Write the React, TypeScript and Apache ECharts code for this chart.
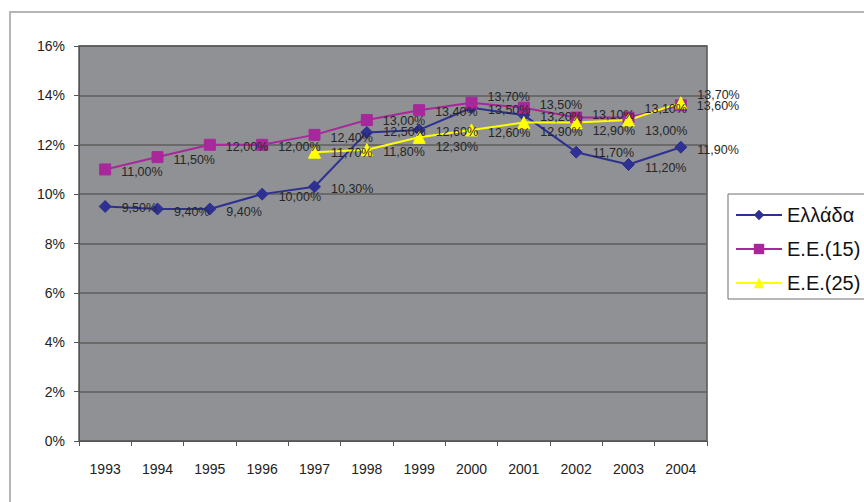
import React, { useEffect, useRef } from "react";
import * as echarts from "echarts";

const years = ["1993", "1994", "1995", "1996", "1997", "1998", "1999", "2000", "2001", "2002", "2003", "2004"];
const greece = [9.5, 9.4, 9.4, 10.0, 10.3, 12.5, 12.6, 13.5, 13.2, 11.7, 11.2, 11.9];
const eu15 = [11.0, 11.5, 12.0, 12.0, 12.4, 13.0, 13.4, 13.7, 13.5, 13.1, 13.1, 13.6];
const eu25 = [null, null, null, null, 11.7, 11.8, 12.3, 12.6, 12.9, 12.9, 13.0, 13.7];

const seriesNames = ["Ελλάδα", "Ε.Ε.(15)", "Ε.Ε.(25)"];
const yTicks = [0, 2, 4, 6, 8, 10, 12, 14, 16];

// Vertical nudges (px) for the value labels, so crowded labels stay readable
const greeceLabelDy = [2, 3.5, 3.5, 3, 2, 0, 2, 2.5, 2, 1, 3, 3];
const eu15LabelDy = [3, 3, 2, 2, 3, 1, 2, -5.5, -2.5, -2.5, -8.5, 1];
const eu25LabelDy = [0, 0, 0, 0, 1, 2.5, 10, 3, 9.5, 8.5, 11, -8];

const fmtPct = (v: number) => v.toFixed(2).replace(".", ",") + "%";

export default function App() {
  const ref = useRef<HTMLDivElement>(null);

  useEffect(() => {
    if (!ref.current) return;
    const chart = echarts.init(ref.current, undefined, { renderer: "svg" });

    const labelStyle = {
      show: true,
      position: "right" as const,
      distance: 10,
      fontSize: 12.5,
      color: "#262626",
      textBorderWidth: 0,
      textBorderColor: "transparent",
      fontFamily: "Liberation Sans, Arial, sans-serif",
      formatter: (p: any) => fmtPct(p.value),
    };

    const withNudges = (vals: (number | null)[], dy: number[]) =>
      vals.map((v, i) => (v == null ? null : { value: v, label: { offset: [0, dy[i]] } }));

    const mk = (
      name: string,
      data: (number | null)[],
      dy: number[],
      color: string,
      symbol: string,
      size: number
    ) => ({
      name,
      type: "line",
      data: withNudges(data, dy),
      symbol,
      symbolSize: size,
      showAllSymbol: true,
      lineStyle: { color, width: 2 },
      itemStyle: { color, borderColor: color },
      label: labelStyle,
      emphasis: { disabled: true },
    });

    chart.setOption({
      animation: false,
      backgroundColor: "#ffffff",
      textStyle: { fontFamily: "Liberation Sans, Arial, sans-serif" },
      graphic: [
        {
          type: "rect",
          shape: { x: 10, y: 12, width: 880, height: 520 },
          style: { fill: "none", stroke: "#b5b5b5", lineWidth: 2 },
          z: -10,
        },
      ],
      grid: {
        left: 79,
        top: 46,
        right: 157,
        bottom: 61,
        show: true,
        backgroundColor: "#8f9194",
        borderColor: "#555555",
        borderWidth: 1.5,
      },
      legend: {
        orient: "vertical",
        left: 728,
        top: 194,
        data: seriesNames,
        itemWidth: 46,
        itemHeight: 13,
        itemGap: 14,
        padding: [11, 40, 6, 7],
        backgroundColor: "#ffffff",
        borderColor: "#6f6f6f",
        borderWidth: 1,
        textStyle: { fontSize: 20, color: "#111111", fontFamily: "Liberation Sans, Arial, sans-serif" },
      },
      xAxis: {
        type: "category",
        data: years,
        boundaryGap: true,
        axisLine: { show: true, lineStyle: { color: "#555555", width: 1 } },
        axisTick: { show: true, alignWithLabel: false, length: 5, lineStyle: { color: "#555555" } },
        axisLabel: { fontSize: 14, color: "#222222", margin: 21 },
        splitLine: { show: false },
      },
      yAxis: {
        type: "value",
        min: yTicks[0],
        max: yTicks[yTicks.length - 1],
        interval: 2,
        axisLine: { show: true, lineStyle: { color: "#555555", width: 1 } },
        axisTick: { show: true, length: 5, lineStyle: { color: "#555555" } },
        axisLabel: { fontSize: 14, color: "#222222", margin: 14, formatter: (v: number) => v + "%" },
        splitLine: { show: true, lineStyle: { color: "#5e5e5e", width: 1.5 } },
      },
      series: [
        mk(seriesNames[0], greece, greeceLabelDy, "#2e3192", "diamond", 12),
        mk(seriesNames[1], eu15, eu15LabelDy, "#a8289c", "rect", 11),
        mk(seriesNames[2], eu25, eu25LabelDy, "#ffff00", "triangle", 12),
      ],
    });

    return () => chart.dispose();
  }, []);

  return (
    <div
      ref={ref}
      style={{ position: "absolute", left: 0, top: 0, width: 864, height: 502 }}
    />
  );
}
